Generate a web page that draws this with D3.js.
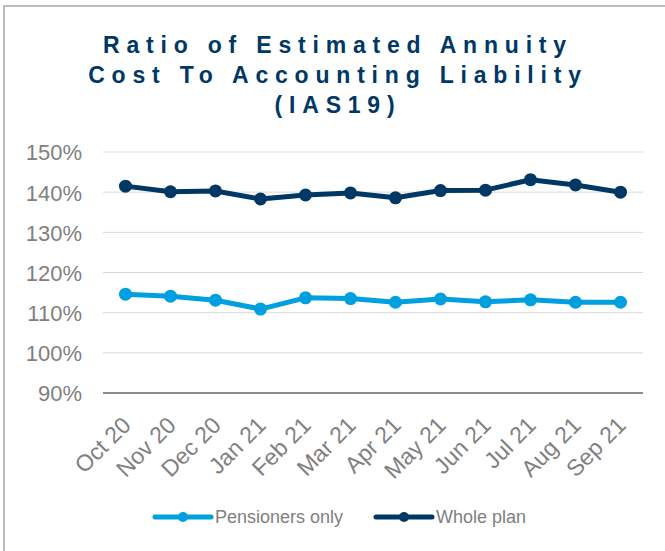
<!DOCTYPE html>
<html>
<head>
<meta charset="utf-8">
<script src="https://cdnjs.cloudflare.com/ajax/libs/d3/7.8.5/d3.min.js"></script>
<style>
  body { margin: 0; background: #fff; }
  text { font-family: "Liberation Sans", Arial, sans-serif; }
</style>
</head>
<body>
<div id="chart"></div>
<script>
var months = ["Oct 20", "Nov 20", "Dec 20", "Jan 21", "Feb 21", "Mar 21", "Apr 21", "May 21", "Jun 21", "Jul 21", "Aug 21", "Sep 21"];
var pensioners = [114.6, 114.1, 113.1, 110.9, 113.7, 113.5, 112.6, 113.4, 112.7, 113.2, 112.6, 112.6];
var wholePlan = [141.5, 140.1, 140.3, 138.3, 139.3, 139.8, 138.6, 140.4, 140.5, 143.1, 141.8, 140.0];
var yTicks = [90, 100, 110, 120, 130, 140, 150];
var titleLines = ["Ratio of Estimated Annuity", "Cost To Accounting Liability", "(IAS19)"];

var series = [
  {name: "Pensioners only", values: pensioners, colour: "#009fdf"},
  {name: "Whole plan", values: wholePlan, colour: "#003865"}
];

var width = 665, height = 551;

var svg = d3.select("#chart")
  .append("svg")
  .attr("width", width)
  .attr("height", height);

// outer chart border (only top and left visible)
svg.append("rect")
  .attr("x", 4).attr("y", 6)
  .attr("width", 700).attr("height", 600)
  .style("fill", "none")
  .style("stroke", "#a6a6a6")
  .style("stroke-width", 1.5);

// title
svg.append("g").selectAll("text")
  .data(titleLines)
  .enter().append("text")
  .attr("x", 338)
  .attr("y", function(d, i) { return 53 + i * 30; })
  .attr("text-anchor", "middle")
  .style("font-size", "23px")
  .style("font-weight", "bold")
  .style("letter-spacing", "6.8px")
  .style("fill", "#003865")
  .text(function(d) { return d; });

var x = d3.scaleBand().domain(months).range([103, 643]);
var y = d3.scaleLinear().domain([90, 150]).range([393, 152]);

// gridlines
svg.append("g").selectAll("line")
  .data(yTicks.slice(1))
  .enter().append("line")
  .attr("x1", 103).attr("x2", 643)
  .attr("y1", function(d) { return y(d); })
  .attr("y2", function(d) { return y(d); })
  .style("stroke", "#d9d9d9")
  .style("stroke-width", 1);

// y axis labels
var yAxis = d3.axisLeft(y)
  .tickValues(yTicks)
  .tickSize(0)
  .tickPadding(0)
  .tickFormat(function(d) { return d + "%"; });

var yg = svg.append("g")
  .attr("transform", "translate(82,0)")
  .call(yAxis);
yg.select(".domain").remove();
yg.selectAll("text")
  .attr("dy", "0.36em")
  .style("font-size", "22px")
  .style("font-family", "'Liberation Sans', Arial, sans-serif")
  .style("fill", "#808080");

// x axis
var xAxis = d3.axisBottom(x).tickSize(0).tickPadding(0);
var xg = svg.append("g")
  .attr("transform", "translate(0," + y(90) + ")")
  .call(xAxis);
xg.select(".domain")
  .attr("d", "M103,0H643")
  .style("stroke", "#8c8c8c")
  .style("stroke-width", 2);
xg.selectAll("text")
  .attr("text-anchor", "end")
  .attr("transform", "translate(1,28) rotate(-45)")
  .attr("dy", "0.35em")
  .attr("y", 0)
  .style("font-size", "23px")
  .style("font-family", "'Liberation Sans', Arial, sans-serif")
  .style("fill", "#808080");

// lines and markers
var line = d3.line()
  .x(function(d, i) { return x(months[i]) + x.bandwidth() / 2; })
  .y(function(d) { return y(d); });

series.forEach(function(s) {
  svg.append("path")
    .datum(s.values)
    .attr("d", line)
    .style("fill", "none")
    .style("stroke", s.colour)
    .style("stroke-width", 5)
    .style("stroke-linejoin", "round");
  svg.append("g").selectAll("circle")
    .data(s.values)
    .enter().append("circle")
    .attr("cx", function(d, i) { return x(months[i]) + x.bandwidth() / 2; })
    .attr("cy", function(d) { return y(d); })
    .attr("r", 6.5)
    .style("fill", s.colour);
});

// legend
var legendX = [155, 376];
series.forEach(function(s, i) {
  var g = svg.append("g").attr("transform", "translate(" + legendX[i] + ",517)");
  g.append("line")
    .attr("x1", 0).attr("x2", 56)
    .style("stroke", s.colour)
    .style("stroke-width", 5)
    .style("stroke-linecap", "round");
  g.append("circle")
    .attr("cx", 28).attr("r", 5)
    .style("fill", s.colour);
  g.append("text")
    .attr("x", 60)
    .attr("dy", "0.35em")
    .style("font-size", "18px")
    .style("fill", "#808080")
    .text(s.name);
});
</script>
</body>
</html>
